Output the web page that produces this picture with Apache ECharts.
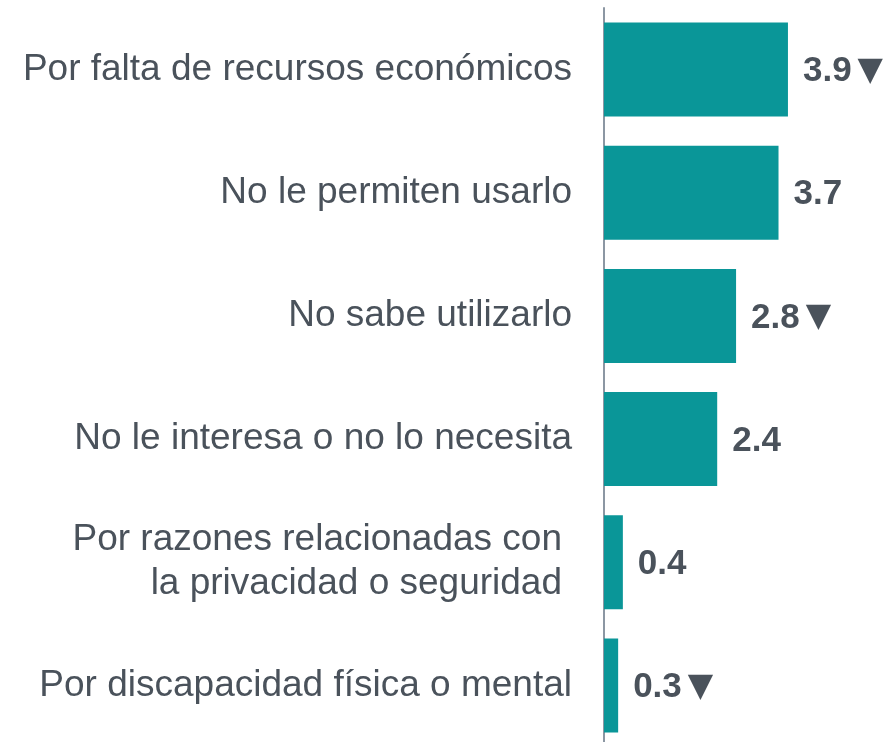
<!DOCTYPE html>
<html lang="es">
<head>
    <meta charset="UTF-8">
    <title>Razones</title>
    <script src="https://cdn.jsdelivr.net/npm/echarts@6/dist/echarts.min.js"></script>
    <style>
        html, body { margin: 0; padding: 0; background: #fff; }
    </style>
</head>
<body>
<div id="main" style="width: 887px;height:742px;"></div>
<script type="text/javascript">
    // datos
    var categories = [
        'Por falta de recursos económicos',
        'No le permiten usarlo',
        'No sabe utilizarlo',
        'No le interesa o no lo necesita',
        'Por razones relacionadas con\nla privacidad o seguridad',
        'Por discapacidad física o mental'
    ];
    var values = [3.9, 3.7, 2.8, 2.4, 0.4, 0.3];
    // true = disminución (▼)
    var decreases = [true, false, true, false, false, true];

    var textColor = '#4a525b';
    var myChart = echarts.init(document.getElementById('main'));

    var option = {
        animation: false,
        grid: {
            left: 604,
            right: 0,
            top: 8,
            height: 739,
            outerBoundsMode: 'none'
        },
        xAxis: {
            type: 'value',
            min: 0,
            max: 6,
            show: false
        },
        yAxis: {
            type: 'category',
            inverse: true,
            data: categories,
            axisLine: {
                show: true,
                lineStyle: { color: '#8c97a3', width: 2 }
            },
            axisTick: { show: false },
            axisLabel: {
                margin: 32,
                color: textColor,
                fontFamily: 'Liberation Sans',
                fontSize: 37,
                lineHeight: 44,
                align: 'right',
                formatter: function (v) {
                    // la etiqueta de dos líneas va un poco más a la izquierda
                    if (v.indexOf('\n') >= 0) {
                        return v.split('\n').map(function (l) {
                            return '{w|' + l + '}';
                        }).join('\n');
                    }
                    return v;
                },
                rich: {
                    w: {
                        color: textColor,
                        fontFamily: 'Liberation Sans',
                        fontSize: 37,
                        lineHeight: 44,
                        padding: [0, 10, 0, 0]
                    }
                }
            }
        },
        series: [
            {
                type: 'bar',
                data: values,
                barWidth: 94,
                itemStyle: { color: '#0a9698' },
                label: {
                    show: true,
                    position: 'right',
                    distance: 15,
                    color: textColor,
                    fontFamily: 'Liberation Sans',
                    fontWeight: 'bold',
                    fontSize: 35,
                    padding: [4, 0, 0, 0],
                    formatter: function (params) {
                        var s = params.value.toFixed(1);
                        if (decreases[params.dataIndex]) {
                            s += '{tri|▼}';
                        }
                        return s;
                    },
                    rich: {
                        tri: {
                            color: textColor,
                            fontFamily: 'DejaVu Sans',
                            fontSize: 33,
                            padding: [0, 0, 0, 6]
                        }
                    }
                }
            }
        ]
    };
    myChart.setOption(option);
</script>
</body>
</html>
